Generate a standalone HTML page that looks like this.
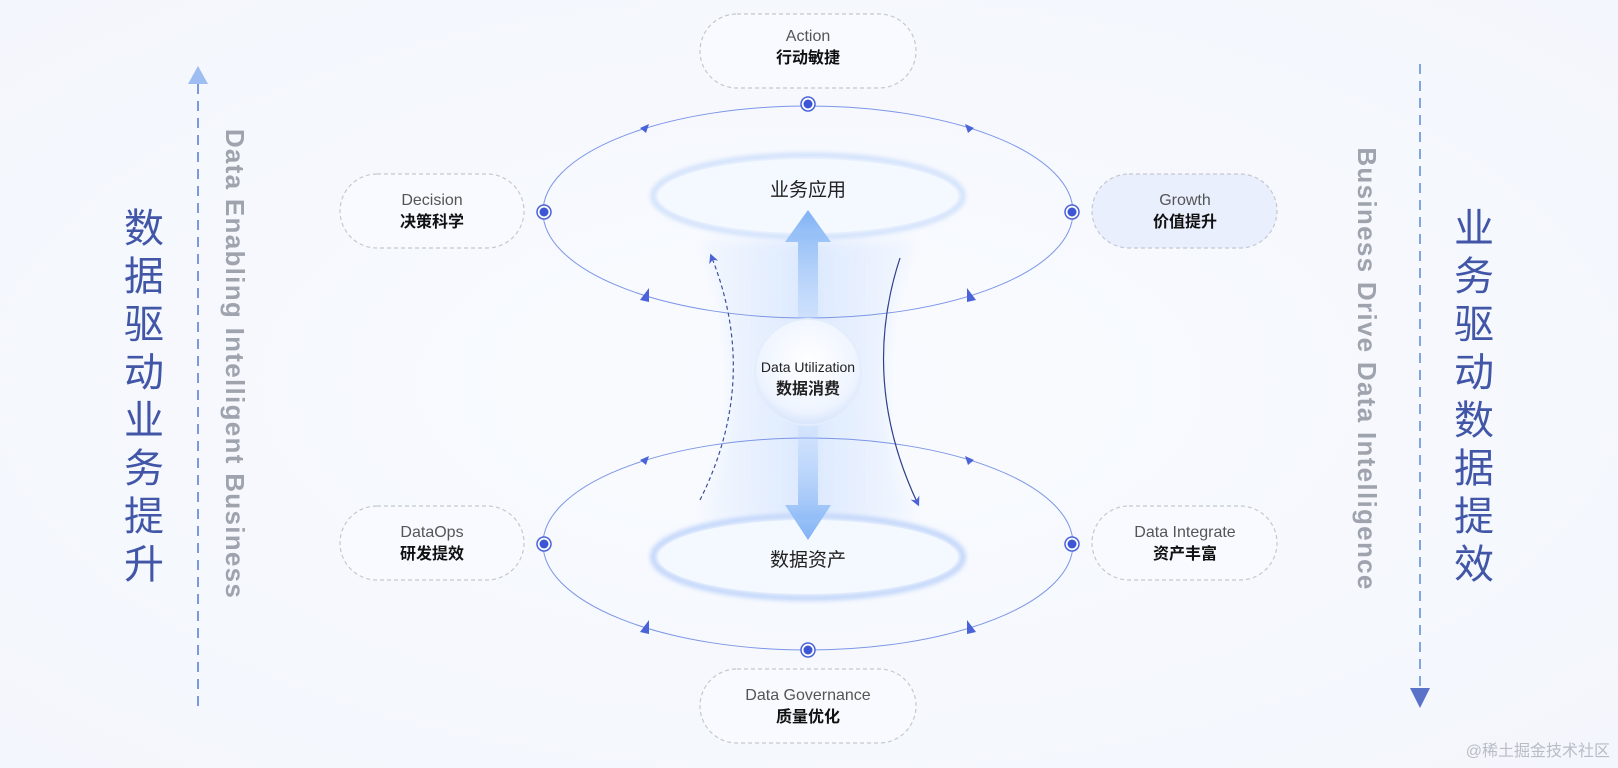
<!DOCTYPE html>
<html><head><meta charset="utf-8"><style>
html,body{margin:0;padding:0;background:#f7f9fd;}
svg{display:block;font-family:"Liberation Sans","Noto Sans CJK SC",sans-serif;}
</style></head><body>
<svg width="1618" height="768" viewBox="0 0 1618 768" xmlns="http://www.w3.org/2000/svg">
<defs>
<radialGradient id="bg" cx="50%" cy="50%" r="70%"><stop offset="0" stop-color="#f9fbff"/><stop offset="1" stop-color="#f3f6fc"/></radialGradient>
<linearGradient id="funnel" x1="0" y1="0" x2="1" y2="0"><stop offset="0" stop-color="#dbe8ff" stop-opacity="0.2"/><stop offset="0.5" stop-color="#d2e3fd" stop-opacity="0.9"/><stop offset="1" stop-color="#dbe8ff" stop-opacity="0.2"/></linearGradient>
<linearGradient id="arrUp" x1="0" y1="1" x2="0" y2="0"><stop offset="0" stop-color="#b9d4fb" stop-opacity="0.2"/><stop offset="1" stop-color="#7fb2f5"/></linearGradient>
<linearGradient id="arrDn" x1="0" y1="0" x2="0" y2="1"><stop offset="0" stop-color="#b9d4fb" stop-opacity="0.2"/><stop offset="1" stop-color="#7fb2f5"/></linearGradient>
<radialGradient id="ball" cx="50%" cy="40%" r="60%"><stop offset="0" stop-color="#ffffff"/><stop offset="0.8" stop-color="#eef4ff"/><stop offset="1" stop-color="#d6e4fb"/></radialGradient>
<filter id="blur" x="-20%" y="-20%" width="140%" height="140%"><feGaussianBlur stdDeviation="6"/></filter>
<filter id="blur2" x="-20%" y="-50%" width="140%" height="200%"><feGaussianBlur stdDeviation="2"/></filter>
<marker id="ah" viewBox="0 0 10 10" refX="5" refY="5" markerWidth="8" markerHeight="8" orient="auto"><path d="M0,0 L10,5 L0,10 L3,5z" fill="#4a63d8"/></marker>
</defs>
<rect width="1618" height="768" fill="url(#bg)"/>

<path d="M700,240 Q760,380 700,520 L916,520 Q856,380 916,240 Z" fill="url(#funnel)" filter="url(#blur)" opacity="0.85"/>

<ellipse cx="808" cy="212" rx="265" ry="106" fill="none" stroke="#7c95e6" stroke-width="1"/>
<ellipse cx="808" cy="544" rx="265" ry="106" fill="none" stroke="#7c95e6" stroke-width="1"/>

<g fill="#4a63d8">
<path d="M640,128 l9,-4 -3,9z"/><path d="M974,128 l-9,-4 3,9z"/>
<path d="M640,300 l9,-12 0,14z"/><path d="M976,300 l-9,-12 0,14z"/>
<path d="M640,460 l9,-4 -3,9z"/><path d="M974,460 l-9,-4 3,9z"/>
<path d="M640,632 l9,-12 0,14z"/><path d="M976,632 l-9,-12 0,14z"/>
</g>

<ellipse cx="808" cy="196" rx="155" ry="41" fill="#f2f7ff" stroke="#cfe0fb" stroke-width="5" filter="url(#blur2)"/>
<ellipse cx="808" cy="196" rx="150" ry="37" fill="#f4f8ff"/>
<ellipse cx="808" cy="557" rx="155" ry="41" fill="#f2f7ff" stroke="#c3d7fa" stroke-width="6" filter="url(#blur2)"/>
<ellipse cx="808" cy="557" rx="150" ry="37" fill="#f4f8ff"/>
<text x="808" y="196" font-size="19" text-anchor="middle" fill="#222">业务应用</text>
<text x="808" y="566" font-size="19" text-anchor="middle" fill="#222">数据资产</text>

<path d="M798,340 L798,242 L785,242 L808,210 L831,242 L818,242 L818,340 Z" fill="url(#arrUp)"/>
<path d="M798,420 L798,505 L785,505 L808,540 L831,505 L818,505 L818,420 Z" fill="url(#arrDn)"/>

<path d="M700,500 Q760,380 712,258" fill="none" stroke="#3a4f9a" stroke-width="1.2" stroke-dasharray="4,3" marker-end="url(#ah)"/>
<path d="M900,258 Q860,380 917,502" fill="none" stroke="#2f3f88" stroke-width="1.2" marker-end="url(#ah)"/>

<circle cx="808" cy="372" r="53" fill="url(#ball)" stroke="#e4edfc" stroke-width="2"/>
<text x="808" y="372" font-size="14" text-anchor="middle" fill="#222">Data Utilization</text>
<text x="808" y="394" font-size="16" text-anchor="middle" fill="#222" font-weight="bold">数据消费</text>

<g>
<circle cx="808" cy="104" r="7" fill="#fff" stroke="#4a63d8" stroke-width="1.5"/><circle cx="808" cy="104" r="4.5" fill="#3d56d6"/>
<circle cx="808" cy="650" r="7" fill="#fff" stroke="#4a63d8" stroke-width="1.5"/><circle cx="808" cy="650" r="4.5" fill="#3d56d6"/>
<circle cx="544" cy="212" r="7" fill="#fff" stroke="#4a63d8" stroke-width="1.5"/><circle cx="544" cy="212" r="4.5" fill="#3d56d6"/>
<circle cx="1072" cy="212" r="7" fill="#fff" stroke="#4a63d8" stroke-width="1.5"/><circle cx="1072" cy="212" r="4.5" fill="#3d56d6"/>
<circle cx="544" cy="544" r="7" fill="#fff" stroke="#4a63d8" stroke-width="1.5"/><circle cx="544" cy="544" r="4.5" fill="#3d56d6"/>
<circle cx="1072" cy="544" r="7" fill="#fff" stroke="#4a63d8" stroke-width="1.5"/><circle cx="1072" cy="544" r="4.5" fill="#3d56d6"/>
</g>

<g stroke="#c4c8d0" stroke-width="1.2" stroke-dasharray="4,3">
<rect x="700" y="14" width="216" height="74" rx="37" fill="#f8faff"/>
<rect x="340" y="174" width="184" height="74" rx="37" fill="#f8faff"/>
<rect x="1092" y="174" width="185" height="74" rx="37" fill="#e9effd"/>
<rect x="340" y="506" width="184" height="74" rx="37" fill="#f8faff"/>
<rect x="1092" y="506" width="185" height="74" rx="37" fill="#f8faff"/>
<rect x="700" y="669" width="216" height="74" rx="37" fill="#f8faff"/>
</g>
<g text-anchor="middle">
<text x="808" y="41" font-size="16" fill="#555">Action</text><text x="808" y="63" font-size="16" fill="#111" font-weight="bold">行动敏捷</text>
<text x="432" y="205" font-size="16" fill="#555">Decision</text><text x="432" y="227" font-size="16" fill="#111" font-weight="bold">决策科学</text>
<text x="1185" y="205" font-size="16" fill="#555">Growth</text><text x="1185" y="227" font-size="16" fill="#111" font-weight="bold">价值提升</text>
<text x="432" y="537" font-size="16" fill="#555">DataOps</text><text x="432" y="559" font-size="16" fill="#111" font-weight="bold">研发提效</text>
<text x="1185" y="537" font-size="16" fill="#555">Data Integrate</text><text x="1185" y="559" font-size="16" fill="#111" font-weight="bold">资产丰富</text>
<text x="808" y="700" font-size="16" fill="#555">Data Governance</text><text x="808" y="722" font-size="16" fill="#111" font-weight="bold">质量优化</text>
</g>

<line x1="198" y1="84" x2="198" y2="710" stroke="#7e98dc" stroke-width="2" stroke-dasharray="10,7"/>
<path d="M188,84 L198,66 L208,84 Z" fill="#9dbdf3"/>
<g font-size="40" fill="#4256a8" text-anchor="middle">
<text x="144" y="242">数</text><text x="144" y="290">据</text><text x="144" y="338">驱</text><text x="144" y="386">动</text><text x="144" y="434">业</text><text x="144" y="482">务</text><text x="144" y="530">提</text><text x="144" y="578">升</text>
</g>
<text transform="translate(226,364) rotate(90)" font-size="26" fill="#9ea3ad" text-anchor="middle" letter-spacing="1.3" font-weight="bold">Data Enabling  Intelligent Business</text>

<line x1="1420" y1="64" x2="1420" y2="690" stroke="#7fa6e0" stroke-width="2" stroke-dasharray="10,7"/>
<path d="M1410,688 L1420,708 L1430,688 Z" fill="#5a73c8"/>
<g font-size="40" fill="#4256a8" text-anchor="middle">
<text x="1474" y="242">业</text><text x="1474" y="290">务</text><text x="1474" y="338">驱</text><text x="1474" y="386">动</text><text x="1474" y="434">数</text><text x="1474" y="482">据</text><text x="1474" y="530">提</text><text x="1474" y="578">效</text>
</g>
<text transform="translate(1358,369) rotate(90)" font-size="26" fill="#9ea3ad" text-anchor="middle" letter-spacing="1.3" font-weight="bold">Business Drive Data Intelligence</text>

<text x="1610" y="756" font-size="16" fill="#b8bcc4" text-anchor="end">@稀土掘金技术社区</text>
</svg>
</body></html>
